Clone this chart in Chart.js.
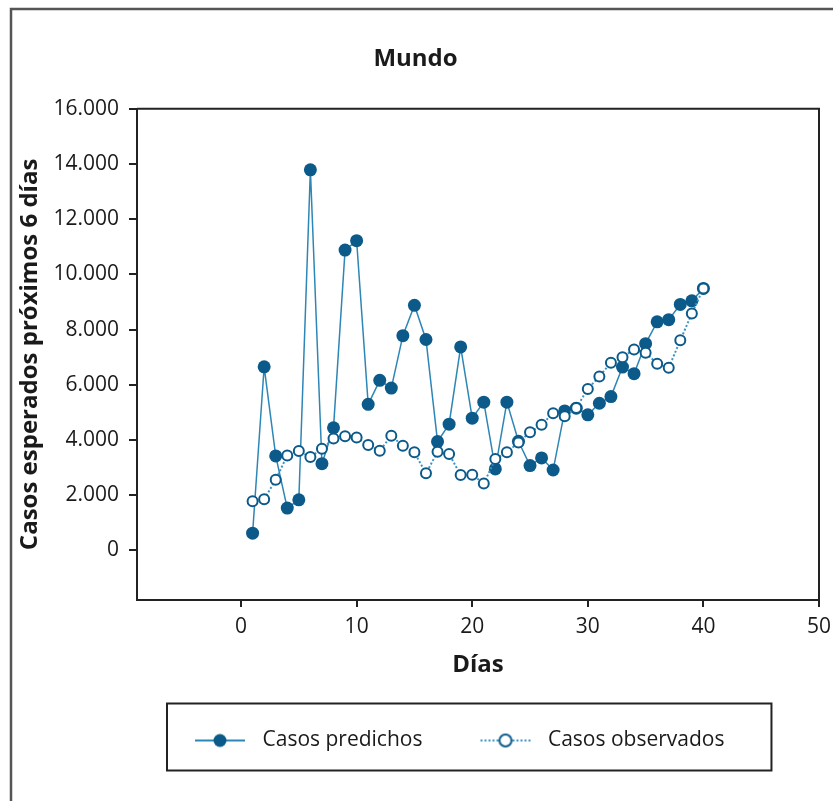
<!DOCTYPE html>
<html>
<head>
<meta charset="utf-8">
<title>Mundo</title>
<script src="https://cdn.jsdelivr.net/npm/chart.js@4.4.1/dist/chart.umd.min.js"></script>
<style>
  html, body { margin: 0; padding: 0; background: #fff; }
</style>
</head>
<body>
<canvas id="mundoChart" width="833" height="801"></canvas>
<script>
// Days 1..40, predicted vs observed cases
const days = [1, 2, 3, 4, 5, 6, 7, 8, 9, 10, 11, 12, 13, 14, 15, 16, 17, 18, 19, 20,
              21, 22, 23, 24, 25, 26, 27, 28, 29, 30, 31, 32, 33, 34, 35, 36, 37, 38, 39, 40];
const predicted = [620, 6650, 3420, 1530, 1830, 13790, 3140, 4440, 10880, 11220,
                   5290, 6160, 5880, 7780, 8880, 7640, 3940, 4570, 7370, 4790,
                   5370, 2950, 5370, 3950, 3070, 3350, 2910, 5050, 5150, 4910,
                   5330, 5570, 6640, 6400, 7490, 8280, 8360, 8910, 9040, 9490];
const observed = [1780, 1850, 2560, 3440, 3600, 3380, 3680, 4050, 4130, 4090,
                  3820, 3610, 4150, 3790, 3550, 2790, 3570, 3490, 2730, 2740,
                  2420, 3310, 3550, 3910, 4280, 4550, 4970, 4860, 5160, 5850,
                  6300, 6800, 7000, 7280, 7160, 6760, 6620, 7610, 8580, 9490];
const yTicks = [0, 2000, 4000, 6000, 8000, 10000, 12000, 14000, 16000];
const xTicks = [0, 10, 20, 30, 40, 50];

const FONT = "'Open Sans', 'Noto Sans', sans-serif";
const INK = '#1a1a1a';
const lineBlue = '#2d86b5';
const dotBlue = '#3b95c4';
const markBlue = '#0b5a8a';

const LEGEND_PAD = 45;
const LEGEND_FONT = 21;

// thousands with a dot: 16000 -> 16.000
function fmt(v) {
  return String(v).replace(/\B(?=(\d{3})+(?!\d))/g, '.');
}

// line+marker pictures for the legend (blank lead-in on the left)
function legendSymbol(filled) {
  const c = document.createElement('canvas');
  c.width = 70; c.height = 18;
  const g = c.getContext('2d');
  g.lineWidth = 2;
  g.strokeStyle = filled ? lineBlue : dotBlue;
  if (!filled) g.setLineDash([2, 2]);
  g.beginPath(); g.moveTo(13, 9); g.lineTo(63, 9); g.stroke();
  g.setLineDash([]);
  g.beginPath();
  if (filled) {
    g.arc(38, 9, 6.5, 0, Math.PI * 2);
    g.fillStyle = markBlue; g.fill();
  } else {
    g.arc(38, 9, 6, 0, Math.PI * 2);
    g.fillStyle = '#fff'; g.fill();
    g.lineWidth = 2; g.strokeStyle = markBlue; g.stroke();
  }
  return c;
}
const symPred = legendSymbol(true);
const symObs = legendSymbol(false);

// plot box, outer panel border and the framed legend
const framePlugin = {
  id: 'frame',
  afterDraw(chart) {
    const { ctx, chartArea: a } = chart;
    ctx.save();
    ctx.strokeStyle = '#222';
    ctx.lineWidth = 2;
    ctx.beginPath();
    ctx.moveTo(a.left, a.top);
    ctx.lineTo(a.right, a.top);
    ctx.lineTo(a.right, a.bottom);
    ctx.stroke();

    ctx.strokeStyle = '#555';
    ctx.lineWidth = 2.5;
    ctx.beginPath();
    ctx.moveTo(11, chart.height);
    ctx.lineTo(11, 9);
    ctx.lineTo(chart.width, 9);
    ctx.stroke();

    const lg = chart.legend;
    const hb = lg.legendHitBoxes;
    if (hb && hb.length) {
      const last = hb[hb.length - 1];
      const cy = lg.top + LEGEND_PAD + LEGEND_FONT / 2;
      const x0 = hb[0].left - 15;
      const x1 = last.left + last.width + 47;
      ctx.strokeStyle = '#222';
      ctx.lineWidth = 2;
      ctx.strokeRect(x0, cy - 37, x1 - x0, 67);
    }
    ctx.restore();
  }
};

const ctx = document.getElementById('mundoChart').getContext('2d');
const chart = new Chart(ctx, {
  type: 'line',
  data: {
    datasets: [{
      label: 'Casos predichos',
      data: days.map((d, i) => ({ x: d, y: predicted[i] })),
      borderColor: lineBlue,
      borderWidth: 1.5,
      pointRadius: 6.5,
      pointBackgroundColor: markBlue,
      pointBorderColor: markBlue,
      pointBorderWidth: 0,
      tension: 0,
      order: 2
    }, {
      label: 'Casos observados',
      data: days.map((d, i) => ({ x: d, y: observed[i] })),
      borderColor: dotBlue,
      borderWidth: 2,
      borderDash: [2, 2],
      pointRadius: 5,
      pointBackgroundColor: '#fff',
      pointBorderColor: markBlue,
      pointBorderWidth: 2,
      tension: 0,
      order: 1
    }]
  },
  options: {
    responsive: false,
    animation: false,
    devicePixelRatio: 1,
    layout: { padding: { top: 18, left: 12, right: 14, bottom: 40 } },
    scales: {
      x: {
        type: 'linear',
        min: -9,
        max: 50,
        afterBuildTicks: (s) => { s.ticks = xTicks.map(v => ({ value: v })); },
        afterFit: (s) => { s.height = 85; s.paddingRight = 0; },
        border: { display: true, color: '#222', width: 2 },
        grid: { display: true, drawOnChartArea: false, tickLength: 7, color: '#222', lineWidth: 2 },
        ticks: { font: { family: FONT, size: 21 }, color: INK, padding: 7, maxRotation: 0, autoSkip: false },
        title: {
          display: true,
          text: 'Días',
          font: { family: FONT, size: 24, weight: 'bold' },
          color: INK,
          padding: { top: 0, bottom: 5 }
        }
      },
      y: {
        min: -1800,
        max: 16000,
        afterBuildTicks: (s) => { s.ticks = yTicks.map(v => ({ value: v })); },
        afterFit: (s) => { s.width = 125; },
        border: { display: true, color: '#222', width: 2 },
        grid: { display: true, drawOnChartArea: false, tickLength: 8, color: '#222', lineWidth: 2 },
        ticks: { font: { family: FONT, size: 21 }, color: INK, padding: 10, callback: (v) => fmt(v) },
        title: {
          display: true,
          text: 'Casos esperados próximos 6 días',
          font: { family: FONT, size: 24, weight: 'bold' },
          color: INK,
          padding: { top: 4, bottom: 0 }
        }
      }
    },
    plugins: {
      title: {
        display: true,
        text: 'Mundo',
        font: { family: FONT, size: 24, weight: 'bold' },
        color: INK,
        padding: { top: 27, bottom: 35 }
      },
      legend: {
        position: 'bottom',
        fullSize: false,
        align: 'start',
        labels: {
          usePointStyle: true,
          pointStyleWidth: 70,
          padding: LEGEND_PAD,
          font: { family: FONT, size: LEGEND_FONT },
          color: INK,
          generateLabels: () => [
            { text: 'Casos predichos', pointStyle: symPred, fontColor: INK, lineWidth: 0, hidden: false, datasetIndex: 0 },
            { text: 'Casos observados', pointStyle: symObs, fontColor: INK, lineWidth: 0, hidden: false, datasetIndex: 1 }
          ]
        }
      },
      tooltip: { enabled: false }
    }
  },
  plugins: [framePlugin]
});
</script>
</body>
</html>
